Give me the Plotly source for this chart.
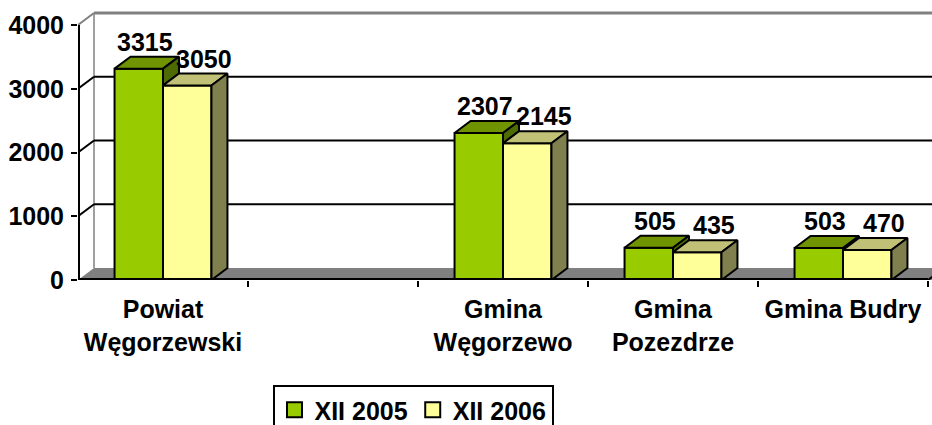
import plotly.graph_objects as go

# ---- data ----
categories = ["Powiat<br>Węgorzewski", " ", "Gmina<br>Węgorzewo", "Gmina<br>Pozezdrze", "Gmina Budry"]
series_names = ["XII 2005", "XII 2006"]
values_2005 = [3315, None, 2307, 505, 503]
values_2006 = [3050, None, 2145, 435, 470]
y_ticks = [0, 1000, 2000, 3000, 4000]

# ---- geometry / style ----
W, H = 932, 425
L_M, R_M, T_M, B_M = 78, 0, 11, 145
PX_X = 170.0                    # pixels per category slot
PX_Y = 0.06375                  # pixels per value unit
X0 = -0.5
X1 = (W - L_M - R_M) / PX_X + X0
Y1 = (H - T_M - B_M) / PX_Y
DX = 16 / PX_X                  # pseudo-3D depth offset (x)
DY = 12 / PX_Y                  # pseudo-3D depth offset (y)
BW = 0.285                      # bar width in slot units
FONT = "Liberation Sans, Arial, sans-serif"
FS = 25

GREEN = dict(front="#99CC00", top="#6F9400", side="#4D6B00")
YELLOW = dict(front="#FFFF99", top="#C0C077", side="#80804F")

pos = list(range(len(categories)))
fig = go.Figure()

fig.add_trace(go.Bar(x=pos, y=values_2005, name=series_names[0], width=BW, offset=-BW,
                     showlegend=False,
                     marker=dict(color=GREEN["front"], line=dict(color="black", width=2))))
fig.add_trace(go.Bar(x=pos, y=values_2006, name=series_names[1], width=BW, offset=0,
                     showlegend=False,
                     marker=dict(color=YELLOW["front"], line=dict(color="black", width=2))))

# legend entries with larger square swatches
for name, col in zip(series_names, [GREEN["front"], YELLOW["front"]]):
    fig.add_trace(go.Scatter(x=[None], y=[None], mode="markers", name=name,
                             marker=dict(symbol="square", size=15, color=col,
                                         line=dict(color="black", width=2))))


def poly(xs, ys, color):
    fig.add_trace(go.Scatter(x=xs + [xs[0]], y=ys + [ys[0]], mode="lines", fill="toself",
                             fillcolor=color, line=dict(color="black", width=2),
                             showlegend=False, hoverinfo="skip"))


annotations = []
for p, vg, vy in zip(pos, values_2005, values_2006):
    if vg is None:
        continue
    xl, xm, xr = p - BW, p, p + BW
    # green top + visible part of side
    poly([xl, xl + DX, xm + DX, xm], [vg, vg + DY, vg + DY, vg], GREEN["top"])
    poly([xm, xm, xm + DX, xm + DX], [vy, vg, vg + DY, vy + DY], GREEN["side"])
    # yellow top + side
    poly([xm, xm + DX, xr + DX, xr], [vy, vy + DY, vy + DY, vy], YELLOW["top"])
    poly([xr, xr, xr + DX, xr + DX], [0, vy, vy + DY, DY], YELLOW["side"])
    annotations.append(dict(x=p - BW / 2, y=vg, text=str(vg), showarrow=False, yanchor="bottom",
                            xshift=6, yshift=11, font=dict(family=FONT, size=FS, color="black", weight="bold")))
    annotations.append(dict(x=p + BW / 2, y=vy, text=str(vy), showarrow=False, yanchor="bottom",
                            xshift=17, yshift=11, font=dict(family=FONT, size=FS, color="black", weight="bold")))

shapes = []
# floor
shapes.append(dict(type="path", xref="x", yref="y", layer="below",
                   path=f"M{X0},0 L{X1 + 1},0 L{X1 + 1},{DY} L{X0 + DX},{DY} Z",
                   fillcolor="#808080", line=dict(width=0)))
# back wall left edge and top edge
shapes.append(dict(type="line", xref="x", yref="y", layer="below", x0=X0 + DX, x1=X0 + DX,
                   y0=DY, y1=4000 + DY, line=dict(color="#A0A0A0", width=2)))
shapes.append(dict(type="line", xref="x", yref="y", layer="below", x0=X0 + DX, x1=X1 + 1,
                   y0=4000 + DY, y1=4000 + DY, line=dict(color="#808080", width=3)))
shapes.append(dict(type="line", xref="x", yref="y", layer="below", x0=X0, x1=X0 + DX,
                   y0=4000, y1=4000 + DY, line=dict(color="#808080", width=2)))
# gridlines on back wall with diagonals on side wall
for v in y_ticks[1:-1]:
    shapes.append(dict(type="line", xref="x", yref="y", layer="below", x0=X0, x1=X0 + DX,
                       y0=v, y1=v + DY, line=dict(color="black", width=2)))
    shapes.append(dict(type="line", xref="x", yref="y", layer="below", x0=X0 + DX, x1=X1 + 1,
                       y0=v + DY, y1=v + DY, line=dict(color="black", width=2)))
# front axes
shapes.append(dict(type="line", xref="x", yref="y", x0=X0, x1=X0, y0=0, y1=4000,
                   line=dict(color="black", width=4)))
shapes.append(dict(type="line", xref="x", yref="y", x0=X0, x1=len(categories) - 0.5, y0=0, y1=0,
                   line=dict(color="black", width=4)))
shapes.append(dict(type="line", xref="x", yref="y", x0=len(categories) - 0.5,
                   x1=len(categories) - 0.5 + DX, y0=0, y1=DY, line=dict(color="black", width=2)))

fig.update_layout(
    width=W, height=H,
    margin=dict(l=L_M, r=R_M, t=T_M, b=B_M, autoexpand=False),
    paper_bgcolor="white", plot_bgcolor="white",
    barmode="overlay",
    showlegend=True,
    legend=dict(orientation="h", x=(413 - L_M) / (W - L_M - R_M), xanchor="center",
                y=(280 - 385) / (H - T_M - B_M), yanchor="top",
                bordercolor="black", borderwidth=2, bgcolor="white",
                font=dict(family=FONT, size=FS, color="black", weight="bold"),
                itemwidth=30, tracegroupgap=0),
    xaxis=dict(range=[X0, X1], tickmode="array", tickvals=pos, ticktext=categories,
               ticks="", showgrid=False, zeroline=False, showline=False, fixedrange=True,
               automargin=False, ticklabelstandoff=12,
               tickfont=dict(family=FONT, size=FS, color="black", weight="bold"),
               minor=dict(tickmode="array", tickvals=[p + 0.5 for p in pos],
                          ticks="outside", ticklen=6, tickwidth=2, tickcolor="black", showgrid=False)),
    yaxis=dict(range=[0, Y1], tickmode="array", tickvals=y_ticks, ticks="outside",
               ticklen=6, tickwidth=2, tickcolor="black", showgrid=False, zeroline=False,
               showline=False, fixedrange=True, automargin=False, ticklabelstandoff=2,
               tickfont=dict(family=FONT, size=FS, color="black", weight="bold")),
    shapes=shapes,
    annotations=annotations,
)

fig.write_html("out.html", config={"displayModeBar": False},
               post_script="document.body.style.margin='0';document.body.style.overflow='hidden';")
